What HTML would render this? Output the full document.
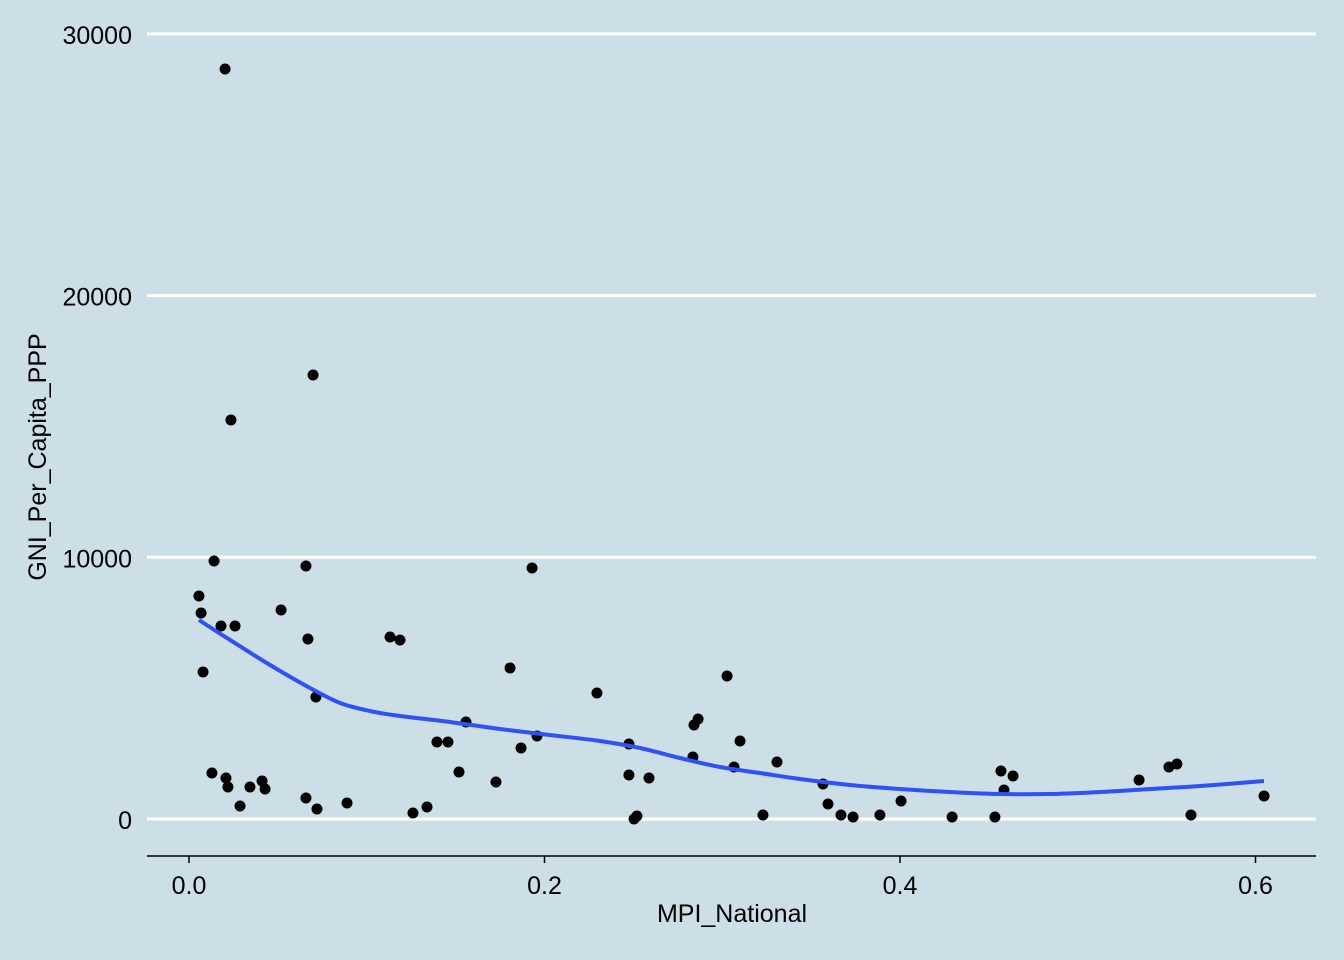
<!DOCTYPE html>
<html><head><meta charset="utf-8"><style>
body{margin:0;background:#cddfe6;}
svg{display:block;font-family:"Liberation Sans",sans-serif;}
</style></head><body>
<svg id="chart" width="1344" height="960">
<rect width="1344" height="960" fill="#cddfe6"/>
<g id="grid"></g><g id="axes"></g><g id="pts"></g><g id="fit"></g>
<text x="732" y="922" text-anchor="middle" font-size="25" fill="#000">MPI_National</text>
<text transform="translate(46,457) rotate(-90)" text-anchor="middle" font-size="25" fill="#000">GNI_Per_Capita_PPP</text>
</svg>
<script>
const xTicks=[0,0.2,0.4,0.6];
const xTickLabels=["0.0","0.2","0.4","0.6"];
const yTicks=[0,10000,20000,30000];
const yTickLabels=["0","10000","20000","30000"];
const pxs=[225,313,231,214,306,532,199,201,281,221,235,308,390,400,203,510,727,597,316,466,698,694,437,448,629,740,537,521,693,777,734,212,226,459,629,649,1001,1013,1177,1169,1139,262,228,250,265,496,823,1004,306,347,240,317,427,413,828,901,1264,763,841,853,880,637,634,952,995,1191];
const pys=[69,375,420,561,566,568,596,613,610,626,626,639,637,640,672,668,676,693,697,722,719,725,742,742,744,741,736,748,757,762,767,773,778,772,775,778,771,776,764,767,780,781,787,787,789,782,784,790,798,803,806,809,807,813,804,801,796,815,815,817,815,816,819,817,817,815];
const mpi=pxs.map(p=>+((p-189)/1777.5).toFixed(4));
const gni=pys.map(p=>Math.round((819-p)/26.17*1000));
const fitX=[199,230,270,310,340,370,400,450,500,550,600,640,680,720,760,800,850,900,950,1000,1050,1100,1150,1200,1264].map(p=>+((p-189)/1777.5).toFixed(4));
const fitY=[620,640,665,688,703,711,716,722,729,735,741,748,758,767,773,779,785,789,792,794,794,792,789,786,781].map(p=>Math.round((819-p)/26.17*1000));
const X=v=>189+v*1777.5, Y=v=>819-v*0.02617;
const NS="http://www.w3.org/2000/svg";
function mk(t,a,parent){const e=document.createElementNS(NS,t);for(const k in a)e.setAttribute(k,a[k]);document.getElementById(parent).appendChild(e);return e;}
yTicks.forEach((v,i)=>{
 const l=mk('line',{x1:147,x2:1316,y1:Y(v),y2:Y(v),stroke:'#fff','stroke-width':3},'grid');
 
 
 const t=mk('text',{x:132,y:Y(v)+10,'text-anchor':'end','font-size':25,fill:'#000'},'axes');
 t.textContent=yTickLabels[i];
 
 
});
const ax=mk('line',{x1:147,x2:1316,y1:856,y2:856,stroke:'#000','stroke-width':1.5},'axes');


xTicks.forEach((v,i)=>{
 const l=mk('line',{x1:X(v),x2:X(v),y1:856,y2:863,stroke:'#000','stroke-width':1.5},'axes');
 
 
 const t=mk('text',{x:X(v),y:894,'text-anchor':'middle','font-size':25,fill:'#000'},'axes');
 t.textContent=xTickLabels[i];
 
 
});
mpi.forEach((v,i)=>{
 const c=mk('circle',{cx:X(v),cy:Y(gni[i]),r:5.5,fill:'#000'},'pts');
 
 
});
const P=fitX.map((v,i)=>[X(v),Y(fitY[i])]);
let d='M'+P[0][0]+','+P[0][1];
for(let i=0;i<P.length-1;i++){
 const p0=P[Math.max(0,i-1)],p1=P[i],p2=P[i+1],p3=P[Math.min(P.length-1,i+2)];
 const c1=[p1[0]+(p2[0]-p0[0])/6,p1[1]+(p2[1]-p0[1])/6];
 const c2=[p2[0]-(p3[0]-p1[0])/6,p2[1]-(p3[1]-p1[1])/6];
 d+=`C${c1[0].toFixed(1)},${c1[1].toFixed(1)} ${c2[0].toFixed(1)},${c2[1].toFixed(1)} ${p2[0].toFixed(1)},${p2[1].toFixed(1)}`;
}
const p=mk('path',{d:d,fill:'none',stroke:'#3050f8','stroke-width':4,'stroke-linejoin':'round'},'fit');


</script>
</body></html>
